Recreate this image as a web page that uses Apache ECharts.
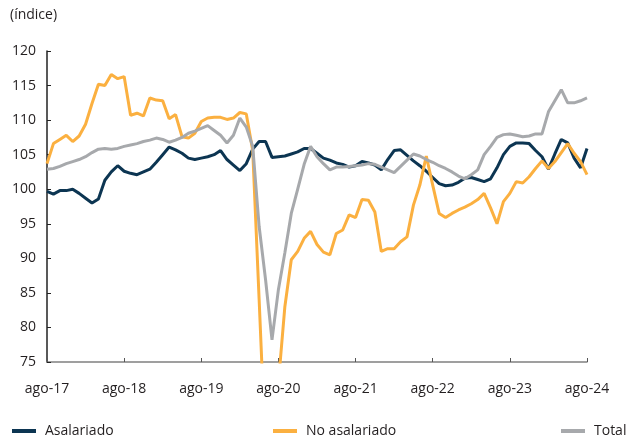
<!DOCTYPE html>
<html>
<head>
<meta charset="utf-8">
<script src="https://cdn.jsdelivr.net/npm/echarts@6/dist/echarts.min.js"></script>
<style>
  html, body { margin: 0; padding: 0; background: #fff; }
  #chart { width: 631px; height: 438px; }
</style>
</head>
<body>
<div id="chart"></div>
<script>
// Índices mensuales ago-17 a ago-24
const monthNames = ['ene', 'feb', 'mar', 'abr', 'may', 'jun', 'jul', 'ago', 'sep', 'oct', 'nov', 'dic'];
const months = [];
for (let k = 0; k < 85; k++) {
    const m = (7 + k) % 12;
    const y = 17 + Math.floor((7 + k) / 12);
    months.push(monthNames[m] + '-' + y);
}

const asalariado = [
    99.7, 99.3, 99.8, 99.8, 100.0, 99.4, 98.7, 98.0, 98.6, 101.3,
    102.5, 103.4, 102.6, 102.3, 102.1, 102.5, 102.9, 103.9, 105.0, 106.1,
    105.7, 105.2, 104.5, 104.3, 104.5, 104.7, 105.0, 105.6, 104.3, 103.5,
    102.7, 103.7, 105.8, 106.9, 106.9, 104.6, 104.7, 104.8, 105.1, 105.4,
    105.9, 105.9, 105.2, 104.5, 104.2, 103.8, 103.6, 103.2, 103.4, 104.0,
    103.8, 103.5, 102.8, 104.3, 105.6, 105.7, 104.9, 104.1, 103.4, 102.6,
    101.7, 100.8, 100.5, 100.6, 101.0, 101.6, 101.7, 101.4, 101.1, 101.5,
    103.1, 105.0, 106.2, 106.7, 106.7, 106.6, 105.6, 104.7, 102.9, 105.1,
    107.2, 106.7, 104.5, 103.1, 105.9
];

const noAsalariado = [
    103.7, 106.6, 107.2, 107.8, 106.9, 107.7, 109.4, 112.4, 115.2, 115.0,
    116.6, 116.0, 116.3, 110.7, 111.0, 110.6, 113.2, 112.9, 112.8, 110.2,
    110.8, 107.6, 107.4, 108.1, 109.8, 110.3, 110.4, 110.4, 110.1, 110.3,
    111.1, 110.9, 105.6, 84.0, 62.0, 60.0, 72.0, 83.0, 89.8, 91.0,
    92.9, 93.9, 92.0, 90.9, 90.5, 93.6, 94.1, 96.3, 95.9, 98.5,
    98.4, 96.7, 91.0, 91.4, 91.4, 92.4, 93.1, 97.7, 100.6, 104.8,
    100.6, 96.5, 95.9, 96.5, 97.0, 97.4, 97.9, 98.5, 99.4, 97.3,
    95.0, 98.2, 99.4, 101.1, 100.9, 101.8, 103.0, 104.1, 103.0, 104.0,
    105.3, 106.6, 105.2, 104.0, 102.1
];

const total = [
    102.9, 103.0, 103.3, 103.7, 104.0, 104.3, 104.7, 105.3, 105.8, 105.9,
    105.8, 105.9, 106.2, 106.4, 106.6, 106.9, 107.1, 107.4, 107.2, 106.8,
    107.1, 107.5, 108.1, 108.4, 108.8, 109.2, 108.5, 107.8, 106.7, 107.8,
    110.3, 109.0, 106.2, 94.6, 86.9, 78.2, 85.5, 90.8, 96.5, 100.0,
    103.6, 106.2, 104.7, 103.7, 102.8, 103.2, 103.2, 103.3, 103.4, 103.5,
    103.7, 103.6, 103.2, 102.8, 102.4, 103.3, 104.2, 105.1, 104.8, 104.3,
    103.9, 103.4, 103.0, 102.5, 101.9, 101.5, 102.1, 102.8, 105.0, 106.2,
    107.5, 107.9, 108.0, 107.8, 107.6, 107.7, 108.0, 108.0, 111.2, 112.8,
    114.4, 112.5, 112.5, 112.8, 113.2
];

const FONT = 'Open Sans';
const TEXT = '#231f20';
const C_ASAL = '#0c3552';
const C_NOASAL = '#fbb040';
const C_TOTAL = '#a7a9ac';

const chart = echarts.init(document.getElementById('chart'));

function legendAt(name, left) {
    return {
        data: [name],
        left: left,
        top: 419,
        icon: 'rect',
        itemWidth: 24,
        itemHeight: 4,
        itemGap: 0,
        textStyle: { fontFamily: FONT, fontSize: 14, color: TEXT, padding: [0, 0, 0, 4] }
    };
}

const option = {
    animation: false,
    title: {
        text: '(índice)',
        left: 5,
        top: 3,
        textStyle: { fontFamily: FONT, fontSize: 14, fontWeight: 'normal', color: TEXT }
    },
    legend: [
        legendAt('Asalariado', 7),
        legendAt('No asalariado', 268),
        legendAt('Total', 556)
    ],
    grid: { left: 47, right: 44, top: 51, bottom: 76 },
    xAxis: {
        type: 'category',
        data: months,
        boundaryGap: false,
        axisLine: { lineStyle: { color: '#808080', width: 1.5 } },
        axisTick: { inside: true, length: 4, interval: 11, lineStyle: { color: '#555' } },
        axisLabel: {
            interval: 11,
            margin: 20,
            fontFamily: FONT,
            fontSize: 14,
            color: TEXT
        },
        splitLine: { show: false }
    },
    yAxis: {
        type: 'value',
        min: 75,
        max: 120,
        interval: 5,
        axisLine: { show: true, lineStyle: { color: '#222', width: 1.5 } },
        axisTick: { show: true, inside: true, length: 4, lineStyle: { color: '#222' } },
        axisLabel: { margin: 11, fontFamily: FONT, fontSize: 14, color: TEXT },
        splitLine: { show: false }
    },
    series: [
        {
            name: 'Asalariado', type: 'line', data: asalariado, symbol: 'none',
            color: C_ASAL, lineStyle: { width: 3, color: C_ASAL }
        },
        {
            name: 'No asalariado', type: 'line', data: noAsalariado, symbol: 'none',
            color: C_NOASAL, lineStyle: { width: 3, color: C_NOASAL }
        },
        {
            name: 'Total', type: 'line', data: total, symbol: 'none',
            color: C_TOTAL, lineStyle: { width: 3, color: C_TOTAL }
        }
    ]
};
chart.setOption(option);
</script>
</body>
</html>
